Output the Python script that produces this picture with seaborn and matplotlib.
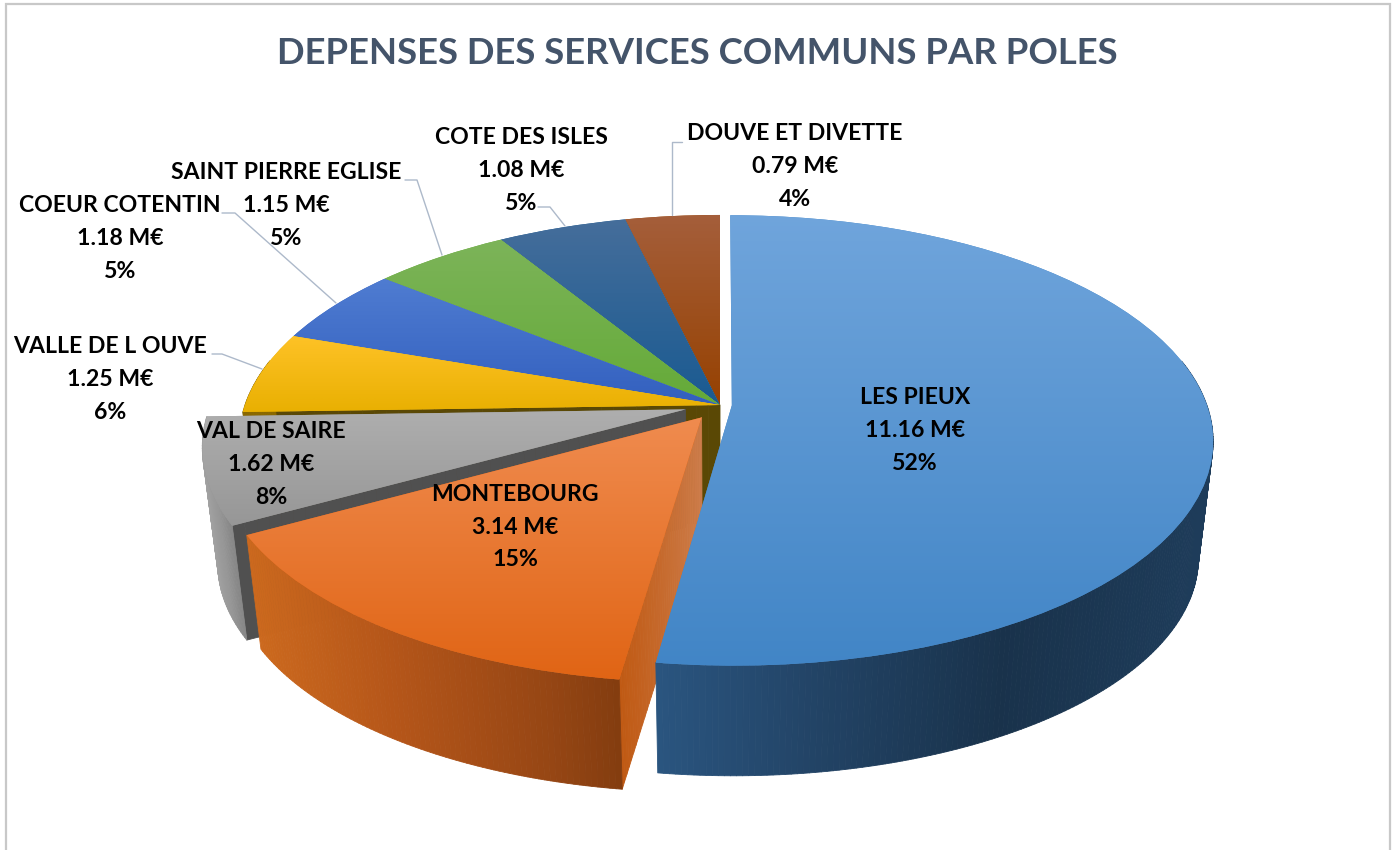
import numpy as np
import matplotlib
matplotlib.use("Agg")
import matplotlib.pyplot as plt
import matplotlib.transforms as mtransforms
from matplotlib.collections import PolyCollection
import seaborn as sns

TITLE = "DEPENSES DES SERVICES COMMUNS PAR POLES"
poles = ["LES PIEUX", "MONTEBOURG", "VAL DE SAIRE", "VALLE DE L OUVE",
         "COEUR COTENTIN", "SAINT PIERRE EGLISE", "COTE DES ISLES", "DOUVE ET DIVETTE"]
millions = [11.16, 3.14, 1.62, 1.25, 1.18, 1.15, 1.08, 0.79]
percents = [52, 15, 8, 6, 5, 5, 5, 4]
explode = [0.025, 0.068, 0.075, 0, 0, 0, 0, 0]

top_start = ["#70a5dc", "#f08c50", "#afafaf", "#ffc328", "#507dd2", "#7db45a", "#466e9b", "#a55f3c"]
top_end = ["#4185c6", "#e06414", "#969696", "#e8af00", "#325fbe", "#64aa37", "#195a91", "#964100"]
side_x = {0: [656, 800, 1000, 1200], 1: [248, 400, 550, 625], 2: [205, 225, 245, 260]}
side_c = {0: ["#2a5580", "#234568", "#19324b", "#1e3c5a"],
          1: ["#cd6a1e", "#b45519", "#964614", "#823c0f"],
          2: ["#a8a8a8", "#989898", "#808080", "#808080"]}
face_c = {1: ("#cd7d4b", "#c05a14"), 2: ("#505050", "#505050"), 3: ("#5a4805", "#5a4805")}
draw_order = [7, 6, 5, 4, 3, 2, 1, 0]

# layout: centre of each label, pixels
label_xy = [(915, 430), (515, 527), (271, 464), (110, 379), (120, 238), (286, 205), (521, 170), (795, 166)]
LINE_STEP = 33
leaders = [[(405, 180), (417, 180), (442, 255)], [(222, 213), (235, 213), (336, 303)],
           [(212, 354), (222, 354), (262, 369)], [(538, 207), (550, 207), (565, 226)],
           [(682, 142), (672, 142), (672, 215)]]

sns.set_theme(style="white")
plt.rcParams["font.family"] = ["Lato", "DejaVu Sans"]

CX, CY, A, B, K, SHRINK, DEPTH = 720.0, 405.0, 475.0, 219.6, 0.1556, 0.03, 118.0


def project(u, v, t=0.0):
    u, v = np.asarray(u, float), np.asarray(v, float)
    w = 1 + K * v
    return CX + A * u / w * (1 - SHRINK * t), CY - B * v / w * (1 - SHRINK * t) + DEPTH * t


class Perspective(mtransforms.Transform):
    input_dims = output_dims = 2
    has_inverse = False

    def transform_non_affine(self, values):
        x, y = project(values[:, 0], values[:, 1])
        return np.column_stack([x, y])


fig = plt.figure(figsize=(13.96, 8.5), dpi=100, facecolor="white")
ax = fig.add_axes([0, 0, 1, 1])
wedges, _ = ax.pie(millions, explode=explode, startangle=90, counterclock=False,
                   colors=top_end, radius=1.0, normalize=True)
ax.set_aspect("auto")
persp = Perspective() + ax.transData
to_rgb = matplotlib.colors.to_rgb


def ramp(c0, c1, n):
    return np.linspace(to_rgb(c0), to_rgb(c1), n)


z = 2
for i in draw_order:
    w = wedges[i]
    ux, uy = w.center
    t1, t2 = np.radians(w.theta1), np.radians(w.theta2)

    # cut face
    if i in face_c:
        th = t2
        rs = np.linspace(0, 1, 41)
        col = ramp(*face_c[i], 40)
        q = []
        for r0, r1 in zip(rs[:-1], rs[1:]):
            a = project(ux + r0 * np.cos(th), uy + r0 * np.sin(th), 0)
            b = project(ux + r1 * np.cos(th), uy + r1 * np.sin(th), 0)
            c = project(ux + r1 * np.cos(th), uy + r1 * np.sin(th), 1)
            d = project(ux + r0 * np.cos(th), uy + r0 * np.sin(th), 1)
            q.append([a, b, c, d])
        ax.add_collection(PolyCollection(q, facecolors=col, edgecolors=col, linewidths=0.6, zorder=z))
        z += 1

    # rim: only the part turned towards the viewer
    ths = np.linspace(t1, t2, max(3, int((t2 - t1) * 90)))
    q, mids = [], []
    for a0, a1 in zip(ths[:-1], ths[1:]):
        if np.sin(a0) > 0.2 and np.sin(a1) > 0.2:
            continue
        u0, v0 = ux + np.cos(a0), uy + np.sin(a0)
        u1, v1 = ux + np.cos(a1), uy + np.sin(a1)
        p = [project(u0, v0, 0), project(u1, v1, 0), project(u1, v1, 1), project(u0, v0, 1)]
        q.append(p)
        mids.append(np.mean([pt[0] for pt in p]))
    if q:
        mids = np.array(mids)
        if i in side_x:
            cs = np.column_stack([np.interp(mids, side_x[i], [to_rgb(c)[k] for c in side_c[i]]) for k in range(3)])
        else:
            cs = np.tile(np.array(to_rgb(top_end[i])) * 0.6, (len(q), 1))
        ax.add_collection(PolyCollection(q, facecolors=cs, edgecolors=cs, linewidths=0.6, zorder=z))
        z += 1

    # top with vertical gradient
    w.set_transform(persp)
    w.set_edgecolor("none")
    w.set_zorder(z)
    z += 1
    verts = Perspective().transform(w.get_path().vertices)
    y0, y1 = verts[:, 1].min(), verts[:, 1].max()
    x0, x1 = verts[:, 0].min(), verts[:, 0].max()
    grad = ramp(top_start[i], top_end[i], 256)[:, None, :]
    im = ax.imshow(grad, extent=(x0 - 3, x1 + 3, y1 + 3, y0 - 3), aspect="auto",
                   interpolation="bilinear", zorder=z)
    im.set_clip_path(w)
    z += 1

ax.set_xlim(0, 1396)
ax.set_ylim(850, 0)
ax.axis("off")

# chart border, open at the bottom
ax.plot([6, 6, 1390, 1390], [850, 3.5, 3.5, 850], color="#c8c8c8", lw=1.6, zorder=z, solid_joinstyle="miter")
z += 1

for pts in leaders:
    xs, ys = zip(*pts)
    ax.plot(xs, ys, color="#adb9ca", lw=1.0, zorder=z)
z += 1

ax.text(697, 53, TITLE, ha="center", va="center", fontsize=26.3, fontweight="bold", color="#44546a", zorder=z)
for name, m, p, (lx, ly) in zip(poles, millions, percents, label_xy):
    for k, line in enumerate((name, f"{m:.2f} M€", f"{p}%")):
        ax.text(lx, ly + (k - 1) * LINE_STEP, line, ha="center", va="center", fontsize=16.6,
                fontweight="bold", color="black", zorder=z)

fig.savefig("out.png", dpi=100, facecolor="white")
